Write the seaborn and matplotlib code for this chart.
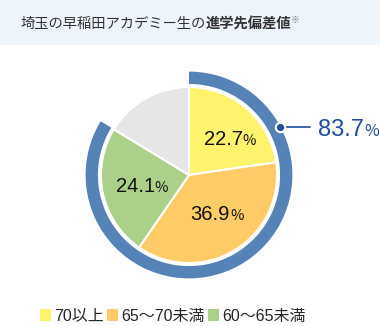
import numpy as np
import seaborn as sns
import matplotlib.pyplot as plt
from matplotlib.patches import Rectangle, Patch

sns.set_theme(style='white')
plt.rcParams['font.family'] = ['Noto Sans CJK JP', 'DejaVu Sans']
num_font = ['Liberation Sans', 'Noto Sans CJK JP']

labels = ['70以上', '65～70未満', '60～65未満', 'その他']
shares = [22.7, 36.9, 24.1, 16.3]
colors = ['#FFF36E', '#FFCB66', '#ABD08A', '#E6E6E6']
total_share = 83.7
ring_color = '#5583B8'
text_blue = '#1E4E9E'

W, H = 380, 326
fig = plt.figure(figsize=(W / 100, H / 100), dpi=100)
fig.patch.set_facecolor('white')

# title band
fig.patches.append(Rectangle((0, 1 - 45 / H), 1, 45 / H, transform=fig.transFigure,
                             facecolor='#EEF4FC', edgecolor='none', zorder=0))

# axes where 1 data unit = 88 px
cx, cy, r = 189, 175, 88
half = 1.3 * r
ax = fig.add_axes([(cx - half) / W, (H - cy - half) / H, 2 * half / W, 2 * half / H])
ax.axis('off')

ax.pie(shares, colors=colors, startangle=90, counterclock=False, radius=1.0,
       wedgeprops=dict(edgecolor='white', linewidth=1.5))
ax.pie([total_share, 100 - total_share], colors=[ring_color, 'none'], startangle=90,
       counterclock=False, radius=1.175, wedgeprops=dict(width=0.14, edgecolor='none'))
ax.set_xlim(-1.3, 1.3)
ax.set_ylim(-1.3, 1.3)

fig.canvas.draw()
renderer = fig.canvas.get_renderer()


def pieces(parts, x, y, ha='center'):
    # draw several text runs side by side (pixel coords from top-left)
    objs = []
    for s, kw in parts:
        objs.append(fig.text(0, 0, s, va='baseline', **kw))
    widths = [t.get_window_extent(renderer).width for t in objs]
    tot = sum(widths)
    start = x - tot / 2 if ha == 'center' else x
    for t, w in zip(objs, widths):
        t.set_position((start / W, 1 - y / H))
        start += w
    return objs


# title
title = pieces([('埼玉の早稲田アカデミー生の', dict(fontsize=10.3, color='#333333')),
                ('進学先偏差値', dict(fontsize=10.3, color='#333333', fontweight='bold')),
                ('※', dict(fontsize=6.5, color='#777777'))], 160, 28)
title[-1].set_position((title[-1].get_position()[0], 1 - 23 / H))

# slice labels
for val, (lx, ly) in zip(shares[:3], [(230, 145), (217, 220), (142, 192)]):
    pieces([(f'{val}', dict(fontsize=14.5, color='#111111', family=num_font)),
            ('%', dict(fontsize=10.5, color='#111111'))], lx, ly)

# callout
ang = np.deg2rad(27.5)
px, py = 1.17 * np.cos(ang), 1.17 * np.sin(ang)
ax.plot([px, 1.38], [py, py], color=text_blue, lw=1.2, clip_on=False, zorder=5)
ax.scatter([px], [py], s=45, color=text_blue, edgecolor='white', linewidth=1.5,
           zorder=6, clip_on=False)
ty = cy - py * r + 9
pieces([(f'{total_share}', dict(fontsize=17, color=text_blue, family=num_font)),
        ('%', dict(fontsize=11.5, color=text_blue))], 318, ty, ha='left')

# legend
handles = [Patch(facecolor=c, edgecolor='none') for c in colors[:3]]
fig.legend(handles, labels[:3], loc='center', bbox_to_anchor=(173 / W, 1 - 316 / H), ncol=3,
           frameon=False, prop=dict(family=num_font, size=11.5), handlelength=0.7,
           handleheight=0.7, handletextpad=0.2, columnspacing=0.2, borderaxespad=0)

fig.savefig('out.png', dpi=100)
